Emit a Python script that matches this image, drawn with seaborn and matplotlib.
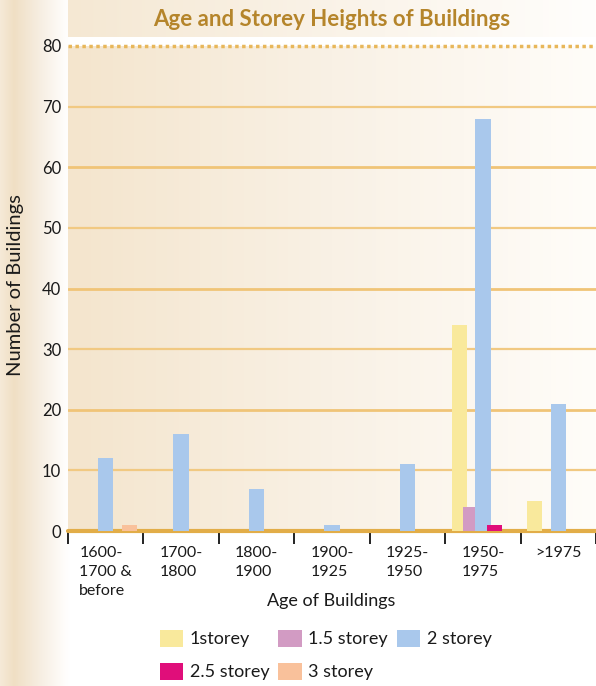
import numpy as np
import pandas as pd
import matplotlib
matplotlib.use("Agg")
import matplotlib.pyplot as plt
from matplotlib.colors import to_rgb
from matplotlib.patches import Patch
import seaborn as sns

# --- data -------------------------------------------------------------
periods = ["1600-\n1700 &\nbefore", "1700-\n1800", "1800-\n1900", "1900-\n1925",
           "1925-\n1950", "1950-\n1975", ">1975"]
storeys = ["1storey", "1.5 storey", "2 storey", "2.5 storey", "3 storey"]
one_storey = [0, 0, 0, 0, 0, 34, 5]
one_half_storey = [0, 0, 0, 0, 0, 4, 0]
two_storey = [12, 16, 7, 1, 11, 68, 21]
two_half_storey = [0, 0, 0, 0, 0, 1, 0]
three_storey = [1, 0, 0, 0, 0, 0, 0]
y_ticks = [0, 10, 20, 30, 40, 50, 60, 70, 80]

colors = ["#f9e99c", "#d29bc3", "#a9c8ec", "#e00e7a", "#f9c19b"]

series = [one_storey, one_half_storey, two_storey, two_half_storey, three_storey]
df = pd.DataFrame({
    "period": np.repeat([periods], len(storeys), axis=0).ravel(),
    "storey": np.repeat(storeys, len(periods)),
    "count": np.concatenate(series),
})

sns.set_theme(style="white")
plt.rcParams["font.family"] = ["Lato", "DejaVu Sans"]
TXT = "#1a1a1a"

W, H = 596, 686
fig = plt.figure(figsize=(W / 100, H / 100), dpi=100)
fig.patch.set_facecolor("white")


def hgrad(stops, n=400):
    """Horizontal colour gradient image from (position, colour) stops."""
    xs = np.linspace(0, 1, n)
    pos = [p for p, _ in stops]
    rgb = np.array([to_rgb(c) for _, c in stops])
    img = np.stack([np.interp(xs, pos, rgb[:, k]) for k in range(3)], axis=-1)
    return img[np.newaxis, :, :]


# left page strip
strip = fig.add_axes([0, 0, 70 / W, 1], zorder=-5)
strip.imshow(hgrad([(0, "#f6ead8"), (0.2, "#f0dfc4"), (0.55, "#f6ede0"),
                    (0.9, "#fefcf9"), (1, "#ffffff")]),
             aspect="auto", extent=[0, 1, 0, 1])
strip.axis("off")

# title band
tax = fig.add_axes([68 / W, 1 - 37 / H, (W - 68) / W, 37 / H], zorder=-4)
tax.imshow(hgrad([(0, "#f5e8d3"), (0.6, "#fbf5ec"), (1, "#fffefc")]),
           aspect="auto", extent=[0, 1, 0, 1])
tax.axis("off")
tax.text(0.5, 0.47, "Age and Storey Heights of Buildings", transform=tax.transAxes,
         ha="center", va="center", fontsize=16, fontweight="bold", color="#b5852b")

# main plot
ax = fig.add_axes([68 / W, 1 - 531 / H, (W - 68) / W, 485 / H])
sns.barplot(data=df, x="period", y="count", hue="storey", order=periods,
            hue_order=storeys, palette=colors, width=0.78, dodge=True,
            edgecolor="none", linewidth=0, saturation=1, legend=False,
            ax=ax, zorder=3)

# slightly wider bars so neighbours overlap, hide empty ones
for p in ax.patches:
    if p.get_height() == 0:
        p.set_visible(False)
        continue
    cx = p.get_x() + p.get_width() / 2
    p.set_width(0.205)
    p.set_x(cx - 0.1025)

ax.set_xlim(-0.5, len(periods) - 0.5)
ax.set_ylim(0, 80)
ax.imshow(hgrad([(0, "#f4e5cd"), (0.5, "#f9f1e5"), (1, "#fffdf9")]),
          aspect="auto", extent=[-0.5, len(periods) - 0.5, 0, 80], zorder=0)

# horizontal rules
for v in y_ticks:
    if v == 0:
        ax.axhline(v, color="#e2ad48", lw=3, zorder=2, clip_on=False)
    elif v == 80:
        ax.axhline(v, color="#e8b75a", lw=2.5, ls=(0, (1, 1)), zorder=2, clip_on=False)
    elif v % 20 == 0:
        ax.axhline(v, color="#f0c477", lw=2.0, zorder=2)
    else:
        ax.axhline(v, color="#f1c982", lw=1.6, zorder=2)

for s in ax.spines.values():
    s.set_visible(False)

ax.set_yticks(y_ticks)
ax.set_yticklabels([str(v) for v in y_ticks])
ax.tick_params(axis="y", length=0, pad=5, labelsize=12, labelcolor=TXT)

ax.set_xticks(range(len(periods)))
ax.set_xticklabels(periods, linespacing=1.42, multialignment="left")
ax.tick_params(axis="x", which="major", length=0, pad=11, labelsize=11.5,
               labelcolor=TXT)
ax.set_xticks(np.arange(-0.5, len(periods) + 0.5, 1), minor=True)
ax.tick_params(axis="x", which="minor", length=9, width=1.3, color="#111111",
               direction="out", bottom=True)

ax.set_xlabel("")
ax.set_ylabel("")
fig.text(331 / W, 1 - 601 / H, "Age of Buildings", ha="center", va="center",
         fontsize=13, color=TXT)
fig.text(16 / W, 1 - 285 / H, "Number of Buildings", rotation=90, ha="center",
         va="center", fontsize=14.5, color=TXT)

# legend: three columns, filled row by row
handles = [Patch(facecolor=c, edgecolor="none") for c in colors]
order = [0, 3, 1, 4, 2]
fig.legend([handles[i] for i in order], [storeys[i] for i in order], ncol=3,
           frameon=False, fontsize=13, handlelength=1.3, handleheight=1.1,
           handletextpad=0.35, columnspacing=0.5, labelspacing=0.85,
           borderpad=0, borderaxespad=0, labelcolor=TXT,
           loc="center left", bbox_to_anchor=(160 / W, 1 - 655 / H))

fig.savefig("out.png", dpi=100, facecolor="white")
